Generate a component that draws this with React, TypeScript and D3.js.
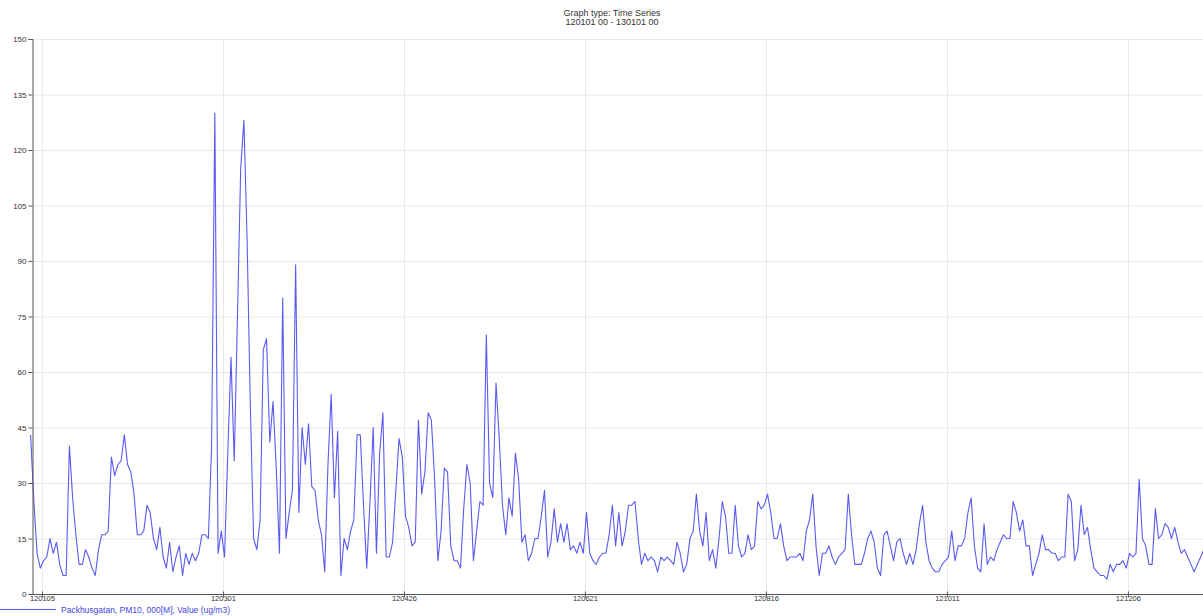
import { useEffect, useRef } from "react";
import * as d3 from "d3";

// Daily PM10 means, Packhusgatan 2012 (ug/m3), one array per month
const pm10Jan = [43, 25, 11, 7, 9, 10, 15, 11, 14, 8, 5, 5, 40, 26, 16, 8, 8, 12, 10, 7, 5, 12, 16, 16, 17, 37, 32, 35, 36, 43, 35];
const pm10Feb = [33, 27, 16, 16, 17, 24, 22, 15, 12, 18, 10, 7, 14, 6, 10, 13, 5, 11, 8, 11, 9, 11, 16, 16, 15, 40, 130, 11, 17];
const pm10Mar = [10, 38, 64, 36, 75, 115, 128, 95, 50, 15, 12, 20, 66, 69, 41, 52, 34, 11, 80, 15, 22, 28, 89, 22, 45, 35, 46, 29, 28, 20, 16];
const pm10Apr = [6, 35, 54, 26, 44, 5, 15, 12, 17, 20, 43, 43, 24, 7, 25, 45, 11, 38, 49, 10, 10, 14, 28, 42, 37, 21, 18, 13, 14, 47];
const pm10May = [27, 33, 49, 47, 31, 9, 17, 34, 33, 13, 9, 9, 7, 23, 35, 30, 9, 17, 25, 24, 70, 30, 26, 57, 42, 24, 16, 26, 21, 38, 31];
const pm10Jun = [14, 16, 9, 11, 15, 15, 21, 28, 10, 14, 23, 14, 19, 14, 19, 12, 13, 11, 14, 11, 22, 11, 9, 8, 10, 11, 11, 16, 24, 13];
const pm10Jul = [22, 13, 17, 24, 24, 25, 15, 8, 11, 9, 10, 9, 6, 10, 9, 10, 9, 8, 14, 11, 6, 8, 15, 17, 27, 17, 13, 22, 9, 12, 7];
const pm10Aug = [15, 25, 21, 11, 11, 24, 13, 10, 11, 16, 12, 13, 25, 23, 24, 27, 22, 15, 15, 19, 13, 9, 10, 10, 10, 11, 9, 17, 20, 27, 13];
const pm10Sep = [5, 11, 11, 13, 10, 8, 10, 11, 12, 27, 16, 8, 8, 8, 11, 15, 17, 14, 7, 5, 16, 17, 13, 9, 14, 15, 11, 8, 11, 8];
const pm10Oct = [12, 19, 24, 14, 9, 7, 6, 6, 8, 9, 10, 17, 9, 13, 13, 15, 22, 26, 13, 7, 6, 19, 8, 10, 9, 12, 14, 16, 15, 15, 25];
const pm10Nov = [22, 17, 20, 13, 13, 5, 8, 11, 16, 12, 12, 11, 11, 9, 10, 10, 27, 25, 9, 12, 24, 16, 18, 12, 7, 6, 5, 5, 4, 8];
const pm10Dec = [6, 8, 8, 9, 7, 11, 10, 11, 31, 15, 13, 8, 8, 23, 15, 16, 19, 18, 15, 18, 14, 11, 12, 10, 8, 6, 8, 10, 12, 11, 10];

const xTickLabels = ["120105", "120301", "120426", "120621", "120816", "121011", "121206"];
const yTickValues = [0, 15, 30, 45, 60, 75, 90, 105, 120, 135, 150];

const titleLines = ["Graph type: Time Series", "120101 00 - 130101 00"];
const legendLabel = "Packhusgatan, PM10, 000[M], Value (ug/m3)";

export default function App() {
  const svgRef = useRef<SVGSVGElement>(null);

  useEffect(() => {
    if (!svgRef.current) return;
    const svg = d3.select(svgRef.current);
    svg.selectAll("*").remove();

    const width = 1203;
    const height = 616;
    const left = 32;
    const top = 39;
    const bottom = 594;
    const font = "Liberation Sans, Arial, sans-serif";

    const values = [
      ...pm10Jan, ...pm10Feb, ...pm10Mar, ...pm10Apr, ...pm10May, ...pm10Jun,
      ...pm10Jul, ...pm10Aug, ...pm10Sep, ...pm10Oct, ...pm10Nov, ...pm10Dec,
    ];
    const start = new Date(2012, 0, 1);
    const data = values.map((v, i) => ({
      date: d3.timeHour.offset(d3.timeDay.offset(start, i), 12),
      value: v,
    }));

    // scale runs past the right edge, the chart is cut off there
    const x = d3
      .scaleTime()
      .domain([start, new Date(2013, 0, 1)])
      .range([29, 29 + 366 * 3.232]);
    const y = d3.scaleLinear().domain([0, 150]).range([bottom, top]);

    const parse = d3.timeParse("%y%m%d");
    const tickDates = xTickLabels.map((t) => parse(t) as Date);

    svg
      .append("rect")
      .attr("width", width)
      .attr("height", height)
      .attr("fill", "#ffffff");

    // Title
    svg
      .append("g")
      .selectAll("text")
      .data(titleLines)
      .enter()
      .append("text")
      .attr("x", 612)
      .attr("y", (d, i) => 16 + i * 9)
      .attr("text-anchor", "middle")
      .style("font-family", font)
      .style("font-size", "9px")
      .style("fill", "#333")
      .text((d) => d);

    // grid lines
    const grid = svg.append("g");
    grid
      .selectAll(".hgrid")
      .data(yTickValues.filter((v) => v > 0))
      .enter()
      .append("line")
      .attr("x1", left)
      .attr("x2", width)
      .attr("y1", (d) => y(d) + 0.5)
      .attr("y2", (d) => y(d) + 0.5)
      .attr("stroke", "#e8e8e8");
    grid
      .selectAll(".vgrid")
      .data(tickDates)
      .enter()
      .append("line")
      .attr("x1", (d) => Math.round(x(d)) + 0.5)
      .attr("x2", (d) => Math.round(x(d)) + 0.5)
      .attr("y1", top)
      .attr("y2", bottom)
      .attr("stroke", "#e8e8e8");

    // the series line
    const line = d3
      .line<{ date: Date; value: number }>()
      .x((d) => x(d.date))
      .y((d) => y(d.value));

    svg
      .append("path")
      .datum(data)
      .attr("fill", "none")
      .attr("stroke", "#5a5af2")
      .attr("stroke-width", 1.1)
      .attr("stroke-linejoin", "round")
      .attr("d", line);

    // y axis
    const yAxis = svg
      .append("g")
      .attr("transform", `translate(${left + 0.5},0)`)
      .call(d3.axisLeft(y).tickValues(yTickValues).tickSize(4).tickPadding(2));
    yAxis.select(".domain").attr("stroke", "#555");
    yAxis.selectAll(".tick line").attr("stroke", "#555");
    yAxis
      .selectAll("text")
      .style("font-family", font)
      .style("font-size", "8px")
      .style("fill", "#333");

    // x axis, labels tucked right under the axis line
    const xAxis = svg
      .append("g")
      .attr("transform", `translate(0,${bottom + 0.5})`)
      .call(
        d3
          .axisBottom(x)
          .tickValues(tickDates)
          .tickSize(3)
          .tickPadding(0)
          .tickFormat((d, i) => xTickLabels[i])
      );
    xAxis.select(".domain").attr("stroke", "#555").attr("d", `M${left},0H${width}`);
    xAxis.selectAll(".tick line").attr("stroke", "#555").attr("y1", -3);
    xAxis
      .selectAll("text")
      .attr("y", 1)
      .style("font-family", font)
      .style("font-size", "7.5px")
      .style("fill", "#333");

    // legend
    svg
      .append("line")
      .attr("x1", 0)
      .attr("x2", 56)
      .attr("y1", 609.5)
      .attr("y2", 609.5)
      .attr("stroke", "#5a5af2")
      .attr("stroke-width", 1);
    svg
      .append("text")
      .attr("x", 61)
      .attr("y", 612.5)
      .style("font-family", font)
      .style("font-size", "8.5px")
      .style("fill", "#4343e0")
      .text(legendLabel);
  }, []);

  return (
    <div>
      <style>{"body{margin:0;overflow:hidden}"}</style>
      <svg ref={svgRef} width={1203} height={616} style={{ display: "block" }} />
    </div>
  );
}
